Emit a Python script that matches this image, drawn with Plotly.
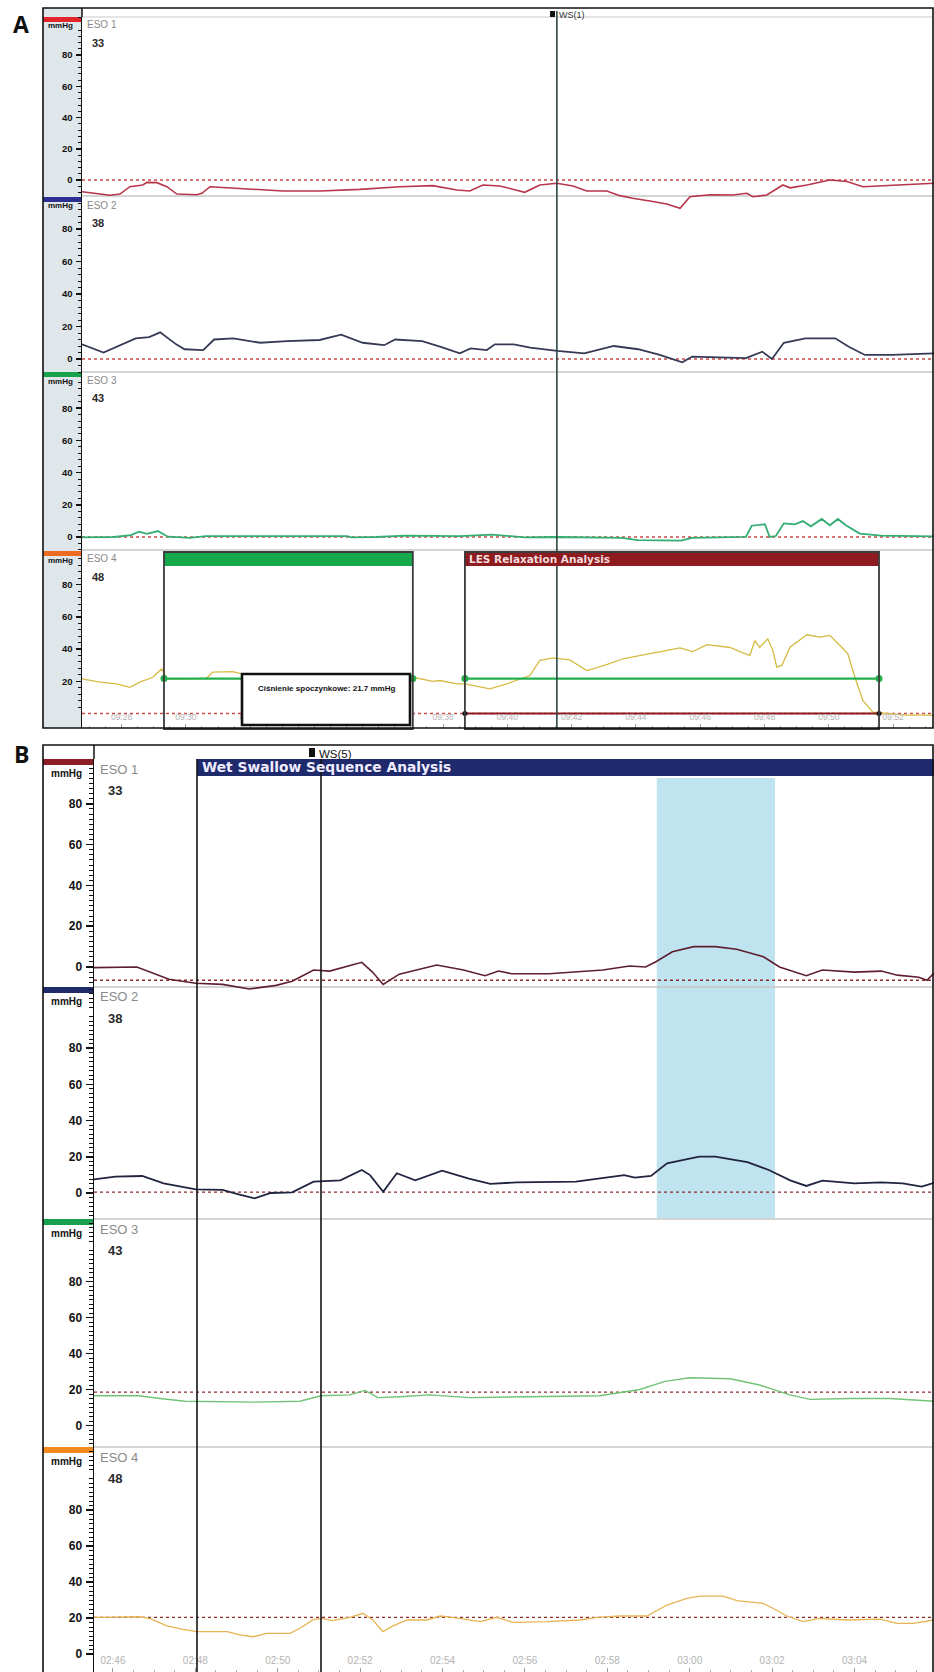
import math
import plotly.graph_objects as go

# ======================= DATA =======================
CHANNEL_NAMES = ["ESO 1", "ESO 2", "ESO 3", "ESO 4"]
CHANNEL_POS = ["33", "38", "43", "48"]

# Panel A: time in seconds (clock 09:mm:ss -> minute part as seconds), pressure in mmHg
A_ESO1_T = [566.77, 567.23, 567.64, 567.95, 568.26, 568.66, 568.79, 569.10, 569.41, 569.72,
            570.34, 570.50, 570.75, 571.28, 571.99, 573.02, 574.17, 575.41, 576.66, 577.68,
            578.43, 578.83, 579.24, 579.77, 580.54, 581.01, 581.54, 582.04, 582.47, 583.09,
            583.50, 583.90, 584.43, 584.96, 585.37, 585.68, 586.30, 587.01, 587.45, 587.64,
            588.07, 588.57, 588.79, 589.32, 590.03, 590.56, 591.06, 591.68, 592.43, 593.27]
A_ESO1_P = [-7.5, -8.5, -9.8, -9.0, -4.3, -3.2, -1.5, -1.7, -4.3, -9.0,
            -9.4, -8.5, -4.3, -5.0, -6.0, -7.0, -7.0, -6.0, -4.3, -3.6,
            -6.4, -7.0, -3.2, -3.8, -7.9, -3.2, -2.1, -3.8, -7.0, -7.0,
            -10.0, -11.7, -13.4, -15.4, -18.1, -10.7, -9.4, -9.6, -8.5, -10.7,
            -9.6, -3.2, -5.0, -3.2, 0.0, -1.0, -4.3, -3.6, -3.2, -2.1]

A_ESO2_T = [566.77, 567.44, 568.44, 568.86, 569.20, 569.70, 569.96, 570.54, 570.88, 571.47,
            572.31, 573.15, 574.16, 574.83, 575.50, 576.17, 576.51, 577.35, 577.93, 578.52,
            578.86, 579.36, 579.61, 580.20, 580.71, 581.55, 582.39, 583.31, 584.07, 584.74,
            585.44, 585.75, 586.58, 587.42, 587.93, 588.23, 588.60, 589.27, 590.20, 590.62,
            591.12, 591.96, 593.27]
A_ESO2_P = [9.0, 4.0, 12.7, 13.5, 16.4, 9.0, 6.0, 5.5, 12.0, 12.7,
            10.0, 11.0, 11.7, 15.0, 10.0, 8.5, 12.0, 11.0, 7.5, 3.5,
            6.5, 5.5, 9.0, 9.0, 7.0, 5.0, 3.5, 8.0, 6.0, 2.5,
            -2.0, 1.5, 1.0, 0.5, 4.5, 0.0, 10.0, 12.7, 12.7, 7.5,
            2.5, 2.5, 3.5]

A_ESO3_T = [566.77, 567.76, 568.29, 568.54, 568.79, 569.13, 569.44, 570.12, 570.62, 573.48,
            575.01, 575.16, 575.91, 576.84, 578.52, 579.52, 580.20, 580.54, 581.54, 583.56,
            584.06, 585.40, 585.74, 587.42, 587.60, 588.01, 588.16, 588.35, 588.60, 588.94,
            589.19, 589.44, 589.78, 590.03, 590.28, 590.53, 590.96, 591.62, 593.27]
A_ESO3_P = [-0.2, 0.0, 1.2, 3.3, 1.9, 3.7, 0.2, -0.5, 0.6, 0.6,
            0.6, -0.2, 0.0, 0.8, 0.6, 1.5, 0.6, -0.2, 0.0, -0.5,
            -1.9, -2.3, -0.5, 0.1, 7.0, 7.9, 0.0, 0.6, 8.5, 7.9,
            9.9, 6.6, 11.2, 7.3, 11.2, 7.3, 2.1, 0.8, 0.4]

A_ESO4_T = [566.77, 567.33, 567.85, 568.26, 568.57, 568.97, 569.25, 569.41, 570.03, 570.65,
            570.84, 571.46, 571.74, 577.06, 577.68, 577.90, 578.43, 578.68, 579.46, 579.98,
            580.70, 581.01, 581.42, 581.94, 582.47, 583.09, 583.59, 584.34, 585.37, 585.77,
            586.21, 586.92, 587.54, 587.70, 587.85, 588.10, 588.26, 588.38, 588.54, 588.79,
            589.32, 589.72, 590.03, 590.34, 590.59, 590.81, 591.06, 591.37, 591.80, 592.43,
            593.27]
A_ESO4_P = [21.5, 19.5, 18.4, 16.3, 19.5, 22.5, 27.7, 21.5, 21.5, 22.0,
            25.7, 26.0, 24.6, 22.5, 20.0, 20.5, 18.4, 18.4, 15.3, 18.4,
            23.6, 33.0, 34.6, 33.3, 26.7, 30.4, 34.0, 37.0, 40.8, 38.5,
            42.8, 41.0, 36.0, 45.3, 41.0, 46.4, 39.0, 28.8, 30.0, 41.2,
            48.9, 47.5, 48.5, 42.4, 37.0, 22.5, 8.0, 0.8, 0.0, -1.0,
            -1.0]

# Panel B: time in seconds (02:46 = 166 s)
B_ESO1_T = [165.54, 166.58, 167.36, 168.01, 168.66, 169.31, 169.96, 170.35, 170.87, 171.26,
            172.04, 172.30, 172.56, 172.95, 173.86, 174.51, 175.03, 175.36, 175.68, 176.59,
            177.89, 178.54, 178.93, 179.19, 179.58, 180.10, 180.62, 181.14, 181.79, 182.18,
            182.83, 183.22, 184.00, 184.65, 185.04, 185.56, 185.76, 185.93]
B_ESO1_P = [-0.3, 0.0, -6.0, -8.0, -8.5, -10.8, -9.0, -7.0, -1.5, -2.0,
            2.3, -2.5, -8.6, -3.5, 1.0, -1.5, -4.3, -2.0, -3.3, -3.3,
            -1.5, 0.5, 0.0, 2.7, 7.5, 10.0, 10.0, 8.7, 5.0, 0.0,
            -4.3, -1.5, -2.5, -2.0, -4.0, -5.0, -6.5, -3.0]

B_ESO2_T = [165.54, 166.06, 166.71, 167.23, 168.01, 168.66, 169.05, 169.44, 169.83, 170.35,
            170.87, 171.52, 172.04, 172.24, 172.56, 172.89, 173.34, 173.99, 174.64, 175.16,
            175.81, 177.24, 178.41, 178.67, 179.06, 179.45, 180.23, 180.62, 181.40, 181.92,
            182.44, 182.83, 183.22, 184.00, 184.65, 185.17, 185.63, 185.93]
B_ESO2_P = [7.5, 9.0, 9.4, 5.3, 2.0, 1.7, -0.7, -2.9, 0.0, 0.4,
            6.3, 7.0, 12.7, 9.9, 0.7, 10.9, 7.0, 12.3, 7.9, 5.0,
            5.9, 6.3, 9.9, 8.5, 9.4, 16.4, 20.1, 20.1, 17.0, 12.7,
            7.0, 3.9, 6.8, 5.3, 5.9, 5.3, 3.5, 5.6]

B_ESO3_T = [165.54, 166.63, 167.14, 167.75, 169.47, 170.54, 171.05, 171.75, 172.12, 172.43,
            172.97, 173.69, 174.67, 176.19, 177.82, 178.79, 179.40, 180.00, 180.98, 181.70,
            182.43, 182.92, 183.89, 184.86, 185.93]
B_ESO3_P = [16.5, 16.5, 15.0, 13.5, 13.0, 13.5, 16.5, 17.0, 19.5, 15.5,
            16.0, 17.0, 15.5, 16.0, 16.5, 20.0, 24.5, 26.5, 26.0, 22.5,
            17.0, 14.5, 15.0, 15.0, 13.5]

B_ESO4_T = [165.54, 166.66, 166.90, 167.31, 167.70, 168.04, 168.77, 169.08, 169.40, 169.74,
            170.30, 170.54, 170.85, 171.05, 171.34, 171.75, 172.07, 172.31, 172.55, 172.80,
            173.14, 173.62, 173.94, 174.42, 174.91, 175.32, 175.71, 176.53, 177.33, 177.75,
            178.31, 178.96, 179.45, 179.93, 180.25, 180.81, 181.15, 181.78, 182.02, 182.36,
            182.75, 183.16, 183.82, 184.62, 185.03, 185.42, 185.93]
B_ESO4_P = [20.4, 20.7, 19.6, 15.6, 13.7, 12.4, 12.4, 10.6, 9.6, 11.5,
            11.5, 14.3, 18.9, 19.8, 18.5, 20.4, 22.6, 18.9, 12.4, 15.6,
            18.9, 18.9, 21.1, 19.8, 18.0, 20.4, 17.6, 18.0, 18.9, 20.4,
            21.1, 21.1, 27.2, 30.9, 32.2, 32.2, 29.6, 28.1, 25.4, 21.1,
            18.0, 19.8, 18.9, 19.4, 17.0, 17.0, 18.9]

A_BASELINES = [0, 0, 0, 0]
B_BASELINES = [-6.5, 0.5, 18.5, 20.4]

A_TICK_T = [568, 570, 572, 574, 576, 578, 580, 582, 584, 586, 588, 590, 592]
A_TICK_TEXT = ["09:28", "09:30", "09:32", "09:34", "09:36", "09:38", "09:40",
               "09:42", "09:44", "09:46", "09:48", "09:50", "09:52"]
B_TICK_T = [166, 168, 170, 172, 174, 176, 178, 180, 182, 184]
B_TICK_TEXT = ["02:46", "02:48", "02:50", "02:52", "02:54", "02:56", "02:58",
               "03:00", "03:02", "03:04"]
Y_TICKS = [0, 20, 40, 60, 80]

A_WS_T = 581.54                  # WS(1) marker
A_REST_BOX = [569.32, 577.06]    # resting pressure window
A_LES_BOX = [578.68, 591.56]     # LES relaxation window
A_REST_P = 21.7                  # mmHg
A_LES_FLOOR = 0
B_SEQ_LINES = [168.04, 171.05]   # wet swallow sequence markers
B_PEAK_WINDOW = [179.20, 182.07] # shaded window

# ======================= STYLE / GEOMETRY =======================
W, H = 934, 1672
FONT = "Liberation Sans, Arial, sans-serif"


def px(x):
    return x / W


def py(y):
    return 1 - y / H


PANELS = [
    dict(name="A", frame=(43, 8, 933, 728), left=82,
         rows=[(17, 212, 196), (197, 372, 372), (372, 551, 550), (551, 728, 728)],
         tops=[17, 197, 372, 551],
         zero=[180, 359, 537, 713.5], scale=[1.5625, 1.625, 1.61, 1.61],
         trange=(566.77, 593.27), minor=4, ticklen=5, minorlen=3, yfont=9.5, xfont=8.5,
         series=[(A_ESO1_T, A_ESO1_P), (A_ESO2_T, A_ESO2_P), (A_ESO3_T, A_ESO3_P), (A_ESO4_T, A_ESO4_P)],
         colors=["#b8354a", "#363a55", "#34ad72", "#d6bb42"], widths=[1.6, 1.8, 1.8, 1.3],
         bars=["#e3262b", "#2b2f8f", "#17a24b", "#ec6a22"],
         baselines=A_BASELINES, dotcolor="#cc4a4a",
         ticks_t=A_TICK_T, ticks_txt=A_TICK_TEXT,
         lab_dx=(85, 90), lab_dy=(8, 26), lab_size=(10, 11), mm=(61, 9, 8)),
    dict(name="B", frame=(43, 745, 933, 1680), left=94,
         rows=[(759, 992, 987), (987, 1219, 1219), (1219, 1447, 1447), (1447, 1672, 1672)],
         tops=[759, 987, 1219, 1447],
         zero=[967, 1193, 1425.5, 1654], scale=[2.04, 1.81, 1.8, 1.8],
         trange=(165.54, 185.93), minor=2.5, ticklen=7, minorlen=4, yfont=12, xfont=10,
         series=[(B_ESO1_T, B_ESO1_P), (B_ESO2_T, B_ESO2_P), (B_ESO3_T, B_ESO3_P), (B_ESO4_T, B_ESO4_P)],
         colors=["#5e1f2e", "#20243f", "#72c277", "#e6b455"], widths=[1.6, 1.8, 1.4, 1.3],
         bars=["#8c1c26", "#1f2b6b", "#18a04c", "#f08a1e"],
         baselines=B_BASELINES, dotcolor="#8b2c2c",
         ticks_t=B_TICK_T, ticks_txt=B_TICK_TEXT,
         lab_dx=(98, 106), lab_dy=(10, 31), lab_size=(13, 13), mm=(66, 14, 10)),
]

fig = go.Figure()
layout = dict(width=W, height=H, margin=dict(l=0, r=0, t=0, b=0),
              paper_bgcolor="white", plot_bgcolor="rgba(0,0,0,0)",
              showlegend=False, hovermode=False)
shapes = []
annotations = []


def prect(x0, y0, x1, y1, layer="below", **kw):
    shapes.append(dict(type="rect", xref="paper", yref="paper", x0=px(x0), x1=px(x1),
                       y0=py(y1), y1=py(y0), layer=layer, **kw))


def pline(x0, y0, x1, y1, color, width, layer="below", dash="solid"):
    shapes.append(dict(type="line", xref="paper", yref="paper", x0=px(x0), x1=px(x1),
                       y0=py(y0), y1=py(y1), layer=layer,
                       line=dict(color=color, width=width, dash=dash)))


def text(x, y, s, size, color="#111", anchor="left", family=FONT, xref="paper", xshift=0):
    annotations.append(dict(text=s, x=(px(x) if xref == "paper" else x), y=py(y),
                            xref=xref, yref="paper", xanchor=anchor, yanchor="middle",
                            showarrow=False, xshift=xshift,
                            font=dict(family=family, size=size, color=color)))


# panel backgrounds
prect(43, 8, 82, 728, fillcolor="#dfe7eb", line=dict(width=0))
pline(82, 17, 933, 17, "#c9c9c9", 1.2)

axis_ids = []
k = 0
for P in PANELS:
    for i in range(4):
        k += 1
        xid = "x" if k == 1 else f"x{k}"
        yid = "y" if k == 1 else f"y{k}"
        axis_ids.append((xid, yid))
        top, bot, sep = P["rows"][i]
        z, s = P["zero"][i], P["scale"][i]
        y_lo, y_hi = (z - bot) / s, (z - top) / s
        vis_lo = (z - sep) / s
        st = P["minor"]
        n = math.ceil(vis_lo / st)
        minor_vals = []
        while n * st < y_hi:
            v = round(n * st, 3)
            if abs(v / 20 - round(v / 20)) > 1e-6:
                minor_vals.append(v)
            n += 1
        xa = dict(domain=[px(P["left"]), 1], range=list(P["trange"]), anchor=yid,
                  showgrid=False, zeroline=False, showline=False, fixedrange=True)
        if i == 3:
            t0, t1 = P["trange"]
            mvals = []
            m = math.ceil(t0 * 2)
            while m / 2 < t1:
                if m % 4 != 0:
                    mvals.append(m / 2)
                m += 1
            xa.update(tickmode="array", tickvals=P["ticks_t"], ticktext=P["ticks_txt"],
                      ticks="inside", ticklen=4, tickwidth=1, tickcolor="#9c9c9c",
                      ticklabelposition="inside", ticklabelstandoff=1,
                      tickfont=dict(family=FONT, size=P["xfont"], color="#b3b3b3"),
                      minor=dict(tickvals=mvals, ticks="inside", ticklen=2, tickwidth=1,
                                 tickcolor="#b0b0b0"))
        else:
            xa.update(showticklabels=False, ticks="")
        ya = dict(domain=[py(bot), py(top)], range=[y_lo, y_hi], anchor=xid,
                  showgrid=False, zeroline=False, showline=True, linecolor="#111",
                  linewidth=1.5, ticks="outside", ticklen=P["ticklen"], tickwidth=1.5,
                  tickcolor="#111", tickmode="array", tickvals=Y_TICKS,
                  ticktext=[str(v) for v in Y_TICKS], ticklabelstandoff=1,
                  tickfont=dict(family=FONT, size=P["yfont"], color="#111", weight="bold"),
                  minor=dict(tickvals=minor_vals, ticks="outside", ticklen=P["minorlen"],
                             tickwidth=1, tickcolor="#111"),
                  fixedrange=True)
        layout["xaxis" if k == 1 else f"xaxis{k}"] = xa
        layout["yaxis" if k == 1 else f"yaxis{k}"] = ya

        # separator and channel bar
        if i < 3:
            pline(P["left"], sep, 933, sep, "#c6c6c6", 1.6)
        ctop = P["tops"][i]
        prect(43, ctop, P["left"], ctop + (5 if P["name"] == "A" else 6),
              fillcolor=P["bars"][i], line=dict(width=0))
        # dotted baseline
        shapes.append(dict(type="line", xref=f"{xid} domain", yref=yid, x0=0, x1=1,
                           y0=P["baselines"][i], y1=P["baselines"][i], layer="below",
                           line=dict(color=P["dotcolor"], width=1.3, dash="dot")))
        # labels
        text(P["lab_dx"][0], ctop + P["lab_dy"][0], CHANNEL_NAMES[i], P["lab_size"][0], "#8a8a8a")
        text(P["lab_dx"][1], ctop + P["lab_dy"][1], "<b>" + CHANNEL_POS[i] + "</b>", P["lab_size"][1], "#2a2a2a")
        text(P["mm"][0], ctop + P["mm"][1], "<b>mmHg</b>", P["mm"][2], "#111", anchor="center")

        t, p = P["series"][i]
        fig.add_trace(go.Scatter(x=t, y=p, xaxis=xid, yaxis=yid, mode="lines",
                                 line=dict(color=P["colors"][i], width=P["widths"][i]),
                                 hoverinfo="skip"))

# ---------------- Panel A annotations ----------------
xA4, yA4 = axis_ids[3]
shapes.append(dict(type="line", xref="x", yref="paper", x0=A_WS_T, x1=A_WS_T,
                   y0=py(728), y1=py(11), layer="above",
                   line=dict(color="#2f4646", width=1.6)))
prect(550, 11, 555, 17, layer="above", fillcolor="#111", line=dict(width=0))
text(557, 15, "WS(1)", 9, "#333")

for box, head in [(A_REST_BOX, "#16a94c"), (A_LES_BOX, "#8e1b20")]:
    shapes.append(dict(type="rect", xref=xA4, yref="paper", x0=box[0], x1=box[1],
                       y0=py(566), y1=py(552), layer="above", fillcolor=head,
                       line=dict(width=0)))
    shapes.append(dict(type="rect", xref=xA4, yref="paper", x0=box[0], x1=box[1],
                       y0=py(729), y1=py(552), layer="above",
                       line=dict(color="#3b3b3b", width=1.8)))
    fig.add_trace(go.Scatter(x=box, y=[A_REST_P, A_REST_P], xaxis=xA4, yaxis=yA4,
                             mode="lines+markers", line=dict(color="#22b04c", width=2.2),
                             marker=dict(color="#22b04c", size=7), hoverinfo="skip"))
fig.add_trace(go.Scatter(x=A_LES_BOX, y=[A_LES_FLOOR, A_LES_FLOOR], xaxis=xA4, yaxis=yA4,
                         mode="lines+markers", line=dict(color="#8e1b20", width=2),
                         marker=dict(color="#111", size=5), hoverinfo="skip"))
annotations.append(dict(text="<b>LES Relaxation Analysis</b>", x=A_LES_BOX[0], y=py(559),
                        xref=xA4, yref="paper", xanchor="left", yanchor="middle",
                        xshift=2, showarrow=False,
                        font=dict(family="DejaVu Sans", size=10.5, color="#f3dcdc")))
prect(242, 674, 410, 725, layer="above", fillcolor="white", line=dict(color="#111", width=2.6))
text(326, 689, "<b>Ciśnienie spoczynkowe: 21.7 mmHg</b>", 8, "#111", anchor="center")

pline(82, 8, 82, 17, "#111", 1.5)
prect(43, 8, 933, 728, layer="above", line=dict(color="#111", width=1.6))

# ---------------- Panel B annotations ----------------
xB1, yB1 = axis_ids[4]
shapes.insert(0, dict(type="rect", xref=xB1, yref="paper", x0=B_PEAK_WINDOW[0],
                      x1=B_PEAK_WINDOW[1], y0=py(1218), y1=py(778), layer="below",
                      fillcolor="#bfe4f0", line=dict(width=0)))
shapes.append(dict(type="rect", xref=xB1, yref="paper", x0=B_SEQ_LINES[0], x1=186.5,
                   y0=py(776), y1=py(759), layer="above", fillcolor="#1f2a6c",
                   line=dict(width=0)))
for tl in B_SEQ_LINES:
    shapes.append(dict(type="line", xref=xB1, yref="paper", x0=tl, x1=tl,
                       y0=py(1672), y1=py(759), layer="above",
                       line=dict(color="#151515", width=1.6)))
annotations.append(dict(text="<b>Wet Swallow Sequence Analysis</b>", x=B_SEQ_LINES[0],
                        y=py(767.5), xref=xB1, yref="paper", xanchor="left",
                        yanchor="middle", xshift=3, showarrow=False,
                        font=dict(family="DejaVu Sans", size=13.8, color="#f0ecff")))
prect(309, 748, 315, 757, layer="above", fillcolor="#111", line=dict(width=0))
text(317, 754, "WS(5)", 11.5, "#111")
pline(94, 745, 94, 759, "#111", 1.5)
prect(43, 745, 933, 1680, layer="above", line=dict(color="#111", width=1.6))

text(21, 24, "<b>A</b>", 23, "#111", anchor="center", family="Open Sans, Noto Sans, sans-serif")
text(21, 754, "<b>B</b>", 23, "#111", anchor="center", family="Open Sans, Noto Sans, sans-serif")

layout["shapes"] = shapes
layout["annotations"] = annotations
fig.update_layout(**layout)
fig.write_html("out.html", config={"displayModeBar": False, "staticPlot": True},
               post_script="document.body.style.margin='0';document.body.style.overflow='hidden';")
